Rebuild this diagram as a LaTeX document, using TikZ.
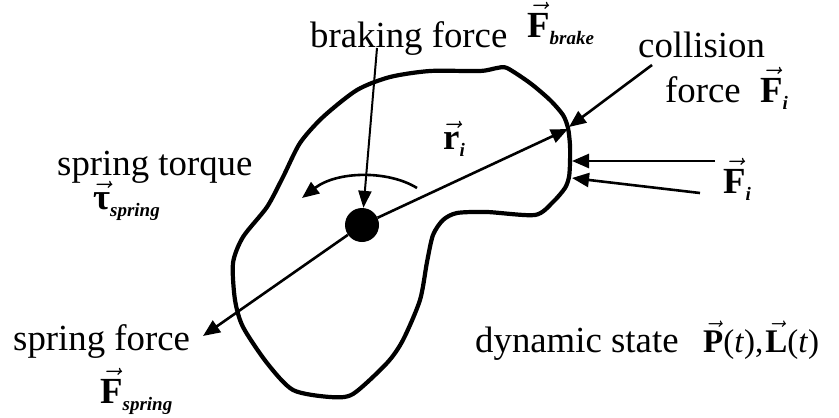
\documentclass[tikz,border=0pt]{standalone}
\usepackage{fix-cm}
\usepackage{amsmath}
\usepackage{fontspec}
\setmainfont{Liberation Serif}
\usetikzlibrary{arrows.meta}
\newcommand{\vb}[1]{\ensuremath{\vec{\text{\bfseries #1}}}}
\newcommand{\sbs}[1]{\raisebox{-7pt}{\fontsize{19}{19}\selectfont\bfseries\itshape #1}}
\tikzset{
  lbl/.style={anchor=base west, inner sep=0pt, font=\fontsize{36.8}{40}\selectfont},
  arr/.style={line width=2.6pt, -{Triangle[length=17pt,width=14pt]}},
  thinarr/.style={line width=2pt, -{Triangle[length=17pt,width=13pt]}},
  outline/.style={line width=4.2pt, line join=round}
}
\begin{document}
\begin{tikzpicture}[x=1pt,y=-1pt]
\useasboundingbox (0,0) rectangle (839,418);
% body outline
\draw[outline] plot[smooth cycle, tension=0.45] coordinates {
 (430,71) (480,71) (497,68) (507,68) (530,83) (550,100) (563,115) (568,128)
 (570,145) (570,163) (569,177) (565,188) (553,202) (535,215) (487,212)
 (457,213) (443,220) (433,235) (427,262) (420,300) (403,340) (387,363)
 (353,394) (330,397) (293,390) (267,363) (243,327) (235,300) (233,263)
 (243,237) (267,207) (283,177) (300,143) (323,117) (357,90) (390,77)};
% centre of mass
\node[circle, fill, inner sep=0pt, minimum size=34pt] (dot) at (362,225) {};
% coordinates
\coordinate (corner) at (568,129);
\coordinate (sfTip) at (203,336);
\coordinate (brkStart) at (377,48);
\coordinate (colStart) at (652,65);
\coordinate (colTip) at (569,127);
\coordinate (fiA) at (715,161);
\coordinate (fiAtip) at (572,161);
\coordinate (fiB) at (700,193);
\coordinate (fiBtip) at (572,178);
\coordinate (tqStart) at (417,188);
\coordinate (tqTip) at (302,198);
% connectors
\draw[arr] (dot) -- (corner);
\draw[arr] (dot) -- (sfTip);
\draw[thinarr] (brkStart) -- (dot);
\draw[arr] (colStart) -- (colTip);
\draw[arr] (fiA) -- (fiAtip);
\draw[arr] (fiB) -- (fiBtip);
\draw[arr] (tqStart) .. controls (388,170) and (337,171) .. (tqTip);
% labels
\node[lbl] (braking) at (310,47) {braking force};
\node[lbl] (Fbrake) at (527,37) {\vb{F}\sbs{brake}};
\node[lbl] (collision) at (638,57) {collision};
\node[lbl] (force) at (665,102) {force};
\node[lbl] (Fi1) at (760,102) {\vb{F}\sbs{i}};
\node[lbl] (ri) at (443,149) {\vb{r}\sbs{i}};
\node[lbl] (Fi2) at (723,193) {\vb{F}\sbs{i}};
\node[lbl] (torque) at (57,175) {spring torque};
\node[lbl] (tau) at (93,209) {\vb{τ}\sbs{spring}};
\node[lbl] (sforce) at (13,350) {spring force};
\node[lbl] (Fspring) at (100,403) {\vb{F}\sbs{spring}};
\node[lbl] (dyn) at (475,352) {dynamic state};
\node[lbl, font=\fontsize{33}{36}\selectfont] (PL) at (703,352) {\vb{P}(\textit{t}),\kern2pt\vb{L}(\textit{t})};
\end{tikzpicture}
\end{document}
